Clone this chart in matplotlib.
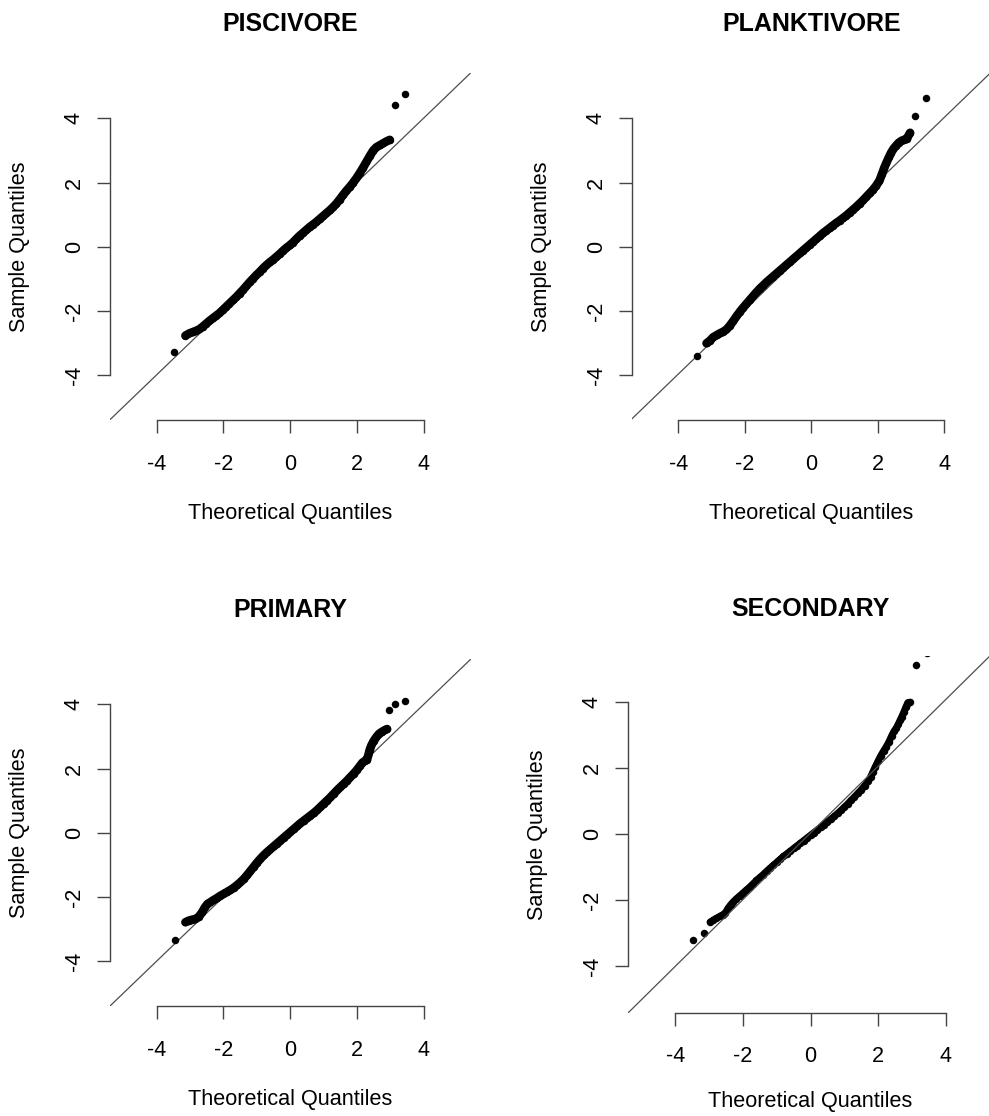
import numpy as np
import matplotlib.pyplot as plt

plt.rcParams['font.family'] = ['Liberation Sans', 'DejaVu Sans']

titles = ['PISCIVORE', 'PLANKTIVORE', 'PRIMARY', 'SECONDARY']
ticks = [-4, -2, 0, 2, 4]

# normal QQ pairs (theoretical, sample) for each feeding group
pisc_x = [-3.47, -3.14, -3.02, -2.92, -2.82, -2.72, -2.62, -2.52, -2.42, -2.32, -2.22, -2.12,
          -2.02, -1.92, -1.82, -1.72, -1.62, -1.52, -1.42, -1.32, -1.22, -1.12, -1.02, -0.92,
          -0.82, -0.72, -0.62, -0.52, -0.42, -0.32, -0.22, -0.12, -0.02, 0.08, 0.18, 0.28,
          0.38, 0.48, 0.58, 0.68, 0.78, 0.88, 0.98, 1.08, 1.18, 1.28, 1.38, 1.48,
          1.58, 1.68, 1.78, 1.88, 1.98, 2.08, 2.18, 2.28, 2.38, 2.48, 2.58, 2.68,
          2.78, 2.88, 2.98, 3.13, 3.45]
pisc_y = [-3.27, -2.77, -2.70, -2.66, -2.62, -2.57, -2.49, -2.40, -2.31, -2.23, -2.15, -2.07,
          -1.97, -1.87, -1.77, -1.67, -1.57, -1.46, -1.35, -1.23, -1.11, -1.00, -0.89, -0.79,
          -0.68, -0.58, -0.49, -0.41, -0.32, -0.23, -0.13, -0.04, 0.04, 0.13, 0.24, 0.34,
          0.43, 0.52, 0.61, 0.69, 0.77, 0.86, 0.95, 1.04, 1.13, 1.23, 1.34, 1.47,
          1.61, 1.74, 1.86, 1.99, 2.13, 2.29, 2.46, 2.64, 2.82, 2.99, 3.10, 3.16,
          3.22, 3.28, 3.33, 4.41, 4.75]

plank_x = [-3.45, -3.15, -3.05, -2.95, -2.85, -2.75, -2.65, -2.55, -2.45, -2.35, -2.25, -2.15,
           -2.05, -1.95, -1.85, -1.75, -1.65, -1.55, -1.45, -1.35, -1.25, -1.15, -1.05, -0.95,
           -0.85, -0.75, -0.65, -0.55, -0.45, -0.35, -0.25, -0.15, -0.05, 0.05, 0.15, 0.25,
           0.35, 0.45, 0.55, 0.65, 0.75, 0.85, 0.95, 1.05, 1.15, 1.25, 1.35, 1.45,
           1.55, 1.65, 1.75, 1.85, 1.95, 2.05, 2.12, 2.19, 2.26, 2.33, 2.40, 2.47,
           2.55, 2.63, 2.71, 2.79, 2.87, 2.97, 3.13, 3.44]
plank_y = [-3.40, -3.01, -2.93, -2.82, -2.76, -2.70, -2.65, -2.58, -2.46, -2.32, -2.17, -2.03,
           -1.90, -1.78, -1.66, -1.54, -1.42, -1.31, -1.21, -1.11, -1.02, -0.93, -0.84, -0.75,
           -0.66, -0.57, -0.48, -0.39, -0.30, -0.21, -0.12, -0.03, 0.06, 0.15, 0.24, 0.33,
           0.42, 0.50, 0.58, 0.66, 0.74, 0.81, 0.89, 0.97, 1.06, 1.15, 1.24, 1.34,
           1.44, 1.55, 1.66, 1.77, 1.90, 2.06, 2.25, 2.45, 2.62, 2.78, 2.93, 3.05,
           3.15, 3.24, 3.30, 3.33, 3.36, 3.55, 4.06, 4.63]

prim_x = [-3.46, -3.14, -3.04, -2.94, -2.84, -2.74, -2.64, -2.56, -2.48, -2.40, -2.30, -2.20,
          -2.10, -2.00, -1.90, -1.80, -1.70, -1.60, -1.50, -1.40, -1.30, -1.20, -1.10, -1.00,
          -0.90, -0.80, -0.70, -0.60, -0.50, -0.40, -0.30, -0.20, -0.10, 0.00, 0.10, 0.20,
          0.30, 0.40, 0.50, 0.60, 0.70, 0.80, 0.90, 1.00, 1.10, 1.20, 1.30, 1.40,
          1.50, 1.60, 1.70, 1.80, 1.90, 2.00, 2.08, 2.16, 2.24, 2.30, 2.34, 2.38,
          2.43, 2.50, 2.58, 2.66, 2.74, 2.82, 2.90, 2.97, 3.14, 3.45]
prim_y = [-3.33, -2.79, -2.74, -2.71, -2.69, -2.62, -2.48, -2.33, -2.22, -2.17, -2.10, -2.04,
          -1.97, -1.91, -1.85, -1.79, -1.72, -1.64, -1.55, -1.45, -1.33, -1.20, -1.07, -0.94,
          -0.82, -0.71, -0.61, -0.52, -0.43, -0.34, -0.25, -0.16, -0.07, 0.02, 0.11, 0.20,
          0.29, 0.37, 0.45, 0.53, 0.61, 0.70, 0.80, 0.90, 1.00, 1.10, 1.21, 1.32,
          1.42, 1.52, 1.62, 1.73, 1.84, 1.96, 2.07, 2.18, 2.24, 2.28, 2.42, 2.58,
          2.72, 2.86, 2.98, 3.08, 3.14, 3.19, 3.23, 3.82, 4.00, 4.10]

sec_x = [-3.47, -3.15, -2.97, -2.88, -2.79, -2.69, -2.60, -2.52, -2.44, -2.36, -2.28, -2.20,
         -2.10, -2.00, -1.90, -1.80, -1.70, -1.60, -1.50, -1.40, -1.30, -1.20, -1.10, -1.00,
         -0.90, -0.80, -0.70, -0.60, -0.50, -0.40, -0.30, -0.20, -0.10, 0.00, 0.10, 0.20,
         0.30, 0.40, 0.50, 0.60, 0.70, 0.80, 0.90, 1.00, 1.10, 1.20, 1.30, 1.40,
         1.50, 1.60, 1.70, 1.78, 1.85, 1.92, 2.00, 2.08, 2.16, 2.24, 2.32, 2.40,
         2.47, 2.54, 2.60, 2.65, 2.70, 2.76, 2.82, 2.88, 2.94, 3.11, 3.44]
sec_y = [-3.21, -3.00, -2.66, -2.60, -2.55, -2.49, -2.44, -2.38, -2.24, -2.13, -2.04, -1.96,
         -1.87, -1.78, -1.69, -1.60, -1.50, -1.40, -1.31, -1.22, -1.12, -1.03, -0.94, -0.85,
         -0.76, -0.67, -0.59, -0.51, -0.43, -0.35, -0.27, -0.19, -0.11, -0.03, 0.05, 0.13,
         0.21, 0.29, 0.37, 0.46, 0.54, 0.63, 0.72, 0.82, 0.92, 1.03, 1.13, 1.24,
         1.35, 1.47, 1.60, 1.74, 1.90, 2.05, 2.22, 2.38, 2.52, 2.65, 2.80, 2.98,
         3.12, 3.22, 3.34, 3.45, 3.56, 3.70, 3.85, 3.99, 4.00, 5.13, 5.48]

groups = [(pisc_x, pisc_y), (plank_x, plank_y), (prim_x, prim_y), (sec_x, sec_y)]

# qqline intercept and slope
line_a = [0.01, 0.03, 0.0, 0.04]
line_b = [1.0, 1.0, 1.0, 1.01]

W, H = 989, 1116
fig = plt.figure(figsize=(W / 100, H / 100), dpi=100)

# plot regions in pixels: left, top, right, bottom
boxes = [(110, 73.4, 470.5, 420), (631.7, 73.4, 990.9, 420),
         (110, 659.4, 470.5, 1006), (628, 656, 993, 1012.5)]
title_y = [31, 31, 617, 616]
xlab_off = [98.8, 98.8, 98.8, 95]
band_w = [6.2, 6.2, 6.2, 5.0]
axcol = '#444444'

for i, (qx, qy) in enumerate(groups):
    qx = np.asarray(qx)
    qy = np.asarray(qy)
    l, t, r, b = boxes[i]
    ax = fig.add_axes([l / W, 1 - b / H, (r - l) / W, (b - t) / H])
    ax.set_xlim(-5.4, 5.4)
    ax.set_ylim(-5.4, 5.4)

    # overlapping points merge into a solid band; split where neighbours are far apart
    gap = np.hypot(np.diff(qx), np.diff(qy)) > 0.22
    runs = np.split(np.arange(len(qx)), np.where(gap)[0] + 1)
    for run in runs:
        if len(run) > 1:
            ax.plot(qx[run], qy[run], '-', color='black', lw=band_w[i],
                    solid_capstyle='round', solid_joinstyle='round', zorder=2)
    ax.plot(qx, qy, 'o', ms=5.4, color='black', mew=0, zorder=2)
    ax.axline((0, line_a[i]), slope=line_b[i], color='#4d4d4d', lw=0.9,
              zorder=3 if i == 3 else 1)

    for s in ['top', 'right']:
        ax.spines[s].set_visible(False)
    for s in ['left', 'bottom']:
        ax.spines[s].set_bounds(-4, 4)
        ax.spines[s].set_color(axcol)
        ax.spines[s].set_linewidth(1.0)
    ax.set_xticks(ticks)
    ax.set_yticks(ticks)
    ax.set_xticklabels([str(v) for v in ticks])
    ax.set_yticklabels([str(v) for v in ticks], rotation=90, va='center')
    ax.tick_params(length=9.4, width=1.0, color=axcol, labelsize=15.6)
    ax.tick_params(axis='x', pad=15)
    ax.tick_params(axis='y', pad=8.6)

    fig.text((l + r) / 2 / W, 1 - (b + xlab_off[i]) / H, 'Theoretical Quantiles',
             ha='center', va='baseline', fontsize=15.6)
    fig.text((l - 90) / W, 1 - (t + b) / 2 / H, 'Sample Quantiles', rotation=90,
             ha='center', va='center', fontsize=15.6)
    fig.text((l + r) / 2 / W, 1 - title_y[i] / H, titles[i], ha='center',
             va='baseline', fontsize=18, fontweight='bold')

fig.savefig('out.png', dpi=100)
